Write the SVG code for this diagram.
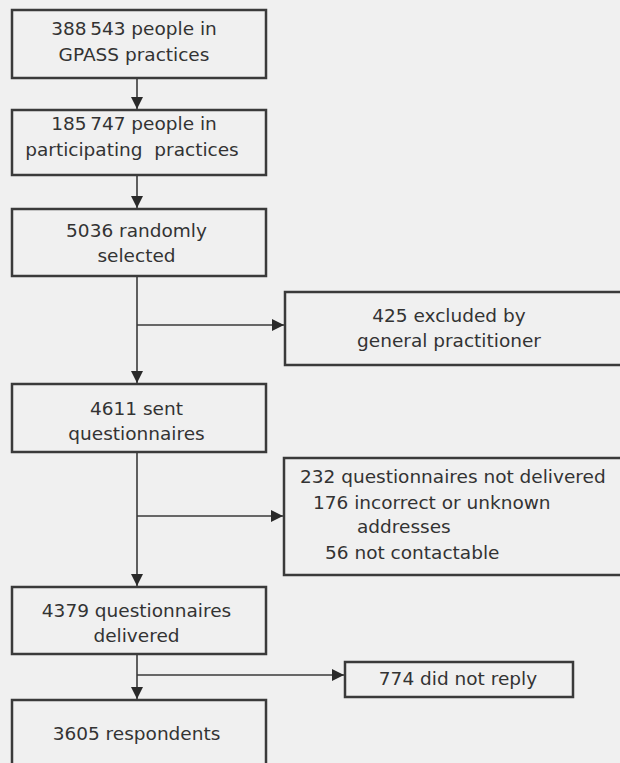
<svg xmlns="http://www.w3.org/2000/svg" width="620" height="763" viewBox="0 0 620 763">
  <defs>
    <style>
      .box { fill: none; stroke: #3a3a3a; stroke-width: 2.5; }
      .t { font-family: "DejaVu Sans", "Liberation Sans", sans-serif; font-size: 18.5px; fill: #333333; text-anchor: middle; }
      .ts { font-family: "DejaVu Sans", "Liberation Sans", sans-serif; font-size: 18.5px; fill: #333333; text-anchor: start; }
      .ln { fill: none; stroke: #3a3a3a; stroke-width: 1.6; }
    </style>
    <marker id="arr" markerUnits="userSpaceOnUse" markerWidth="12" markerHeight="12" viewBox="0 0 12 12" refX="12" refY="6" orient="auto">
      <path d="M0,0 L12,6 L0,12 Z" fill="#2a2a2a"/>
    </marker>
  </defs>
  <rect x="0" y="0" width="620" height="763" fill="#f0f0f0"/>

  <g id="connectors">
    <line class="ln" x1="137" y1="78" x2="137" y2="109" marker-end="url(#arr)"/>
    <line class="ln" x1="137" y1="175" x2="137" y2="208" marker-end="url(#arr)"/>
    <line class="ln" x1="137" y1="276" x2="137" y2="383" marker-end="url(#arr)"/>
    <line class="ln" x1="137" y1="325" x2="284" y2="325" marker-end="url(#arr)"/>
    <line class="ln" x1="137" y1="452" x2="137" y2="586" marker-end="url(#arr)"/>
    <line class="ln" x1="137" y1="516" x2="283" y2="516" marker-end="url(#arr)"/>
    <line class="ln" x1="137" y1="654" x2="137" y2="699" marker-end="url(#arr)"/>
    <line class="ln" x1="137" y1="675" x2="344" y2="675" marker-end="url(#arr)"/>
  </g>

  <g id="n1">
    <rect class="box" x="12" y="10" width="254" height="68"/>
    <text class="t" x="134" y="35">388&#8201;543 people in</text>
    <text class="t" x="134" y="61">GPASS practices</text>
  </g>
  <g id="n2">
    <rect class="box" x="12" y="110" width="254" height="65"/>
    <text class="t" x="134" y="130">185&#8201;747 people in</text>
    <text class="t" x="132" y="156" style="white-space:pre">participating  practices</text>
  </g>
  <g id="n3">
    <rect class="box" x="12" y="209" width="254" height="67"/>
    <text class="t" x="136.5" y="237">5036 randomly</text>
    <text class="t" x="136.5" y="262">selected</text>
  </g>
  <g id="n_excl">
    <rect class="box" x="285" y="292" width="345" height="73"/>
    <text class="t" x="449" y="322">425 excluded by</text>
    <text class="t" x="449" y="347">general practitioner</text>
  </g>
  <g id="n4">
    <rect class="box" x="12" y="384" width="254" height="68"/>
    <text class="t" x="136.5" y="415">4611 sent</text>
    <text class="t" x="136.5" y="440">questionnaires</text>
  </g>
  <g id="n_notdel">
    <rect class="box" x="284" y="458" width="346" height="117"/>
    <text class="ts" x="300" y="483">232 questionnaires not delivered</text>
    <text class="ts" x="313" y="509">176 incorrect or unknown</text>
    <text class="ts" x="357" y="533">addresses</text>
    <text class="ts" x="325" y="559">56 not contactable</text>
  </g>
  <g id="n5">
    <rect class="box" x="12" y="587" width="254" height="67"/>
    <text class="t" x="136.5" y="617">4379 questionnaires</text>
    <text class="t" x="136.5" y="642">delivered</text>
  </g>
  <g id="n_noreply">
    <rect class="box" x="345" y="662" width="228" height="35"/>
    <text class="t" x="458" y="685">774 did not reply</text>
  </g>
  <g id="n6">
    <rect class="box" x="12" y="700" width="254" height="80"/>
    <text class="t" x="136.5" y="740">3605 respondents</text>
  </g>
</svg>
